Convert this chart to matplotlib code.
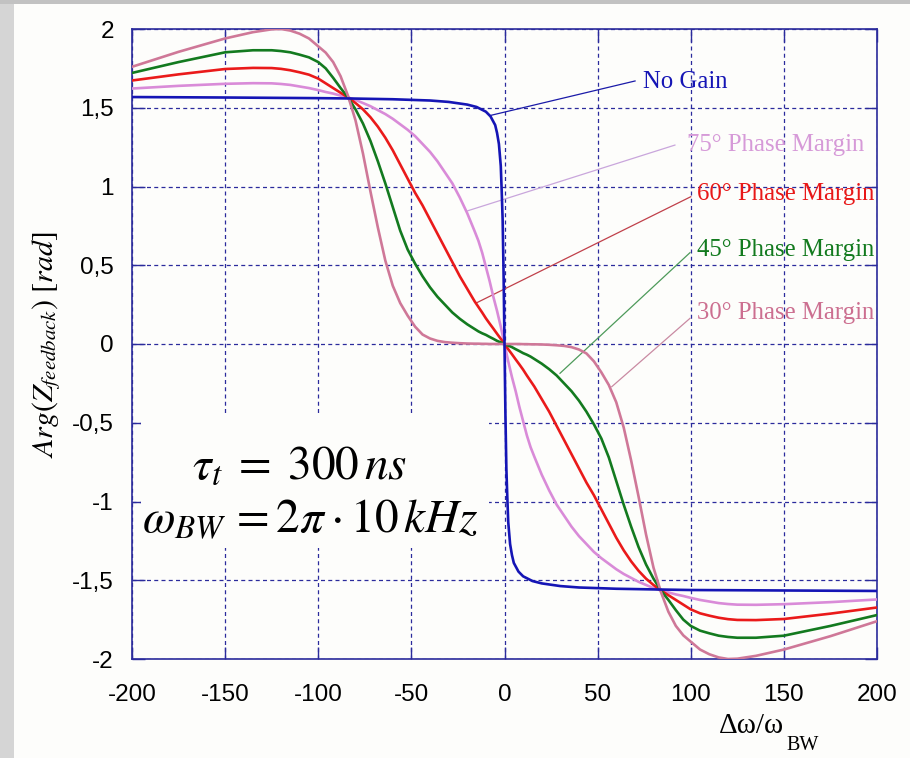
import matplotlib
matplotlib.use("Agg")
import matplotlib.pyplot as plt
from matplotlib.patches import Rectangle

plt.rcParams["mathtext.fontset"] = "stix"

# Detuning axis (Δω/ω_BW) shared by the four phase-margin curves
detuning = [-200, -175, -150, -135, -125, -120, -115, -110, -105, -100, -96, -92, -88,
            -84, -80, -76, -72, -68, -64, -60, -56, -52, -48, -44, -40, -36, -32, -28,
            -24, -20, -16, -14, -12, -10, -8, -6, -4, -2, 0, 2, 4, 6, 8, 10, 12, 14, 16,
            20, 24, 28, 32, 36, 40, 44, 48, 52, 56, 60, 64, 68, 72, 76, 80, 84, 88, 92,
            96, 100, 105, 110, 115, 120, 125, 135, 150, 175, 200]

pm75 = [1.622, 1.639, 1.652, 1.656, 1.655, 1.651, 1.645, 1.635, 1.625, 1.612, 1.60, 1.59,
        1.577, 1.565, 1.55, 1.53, 1.51, 1.485, 1.46, 1.43, 1.395, 1.36, 1.32, 1.27, 1.22,
        1.16, 1.09, 1.02, 0.93, 0.83, 0.715, 0.655, 0.58, 0.49, 0.40, 0.30, 0.21, 0.11,
        0.0,
        -0.11, -0.21, -0.30, -0.40, -0.49, -0.58, -0.655, -0.715, -0.83, -0.93, -1.02,
        -1.09, -1.16, -1.22, -1.27, -1.32, -1.36, -1.395, -1.43, -1.46, -1.485, -1.51,
        -1.53, -1.55, -1.565, -1.577, -1.59, -1.60, -1.612, -1.625, -1.635, -1.645,
        -1.651, -1.655, -1.656, -1.652, -1.639, -1.622]

pm60 = [1.673, 1.712, 1.746, 1.753, 1.752, 1.747, 1.738, 1.725, 1.71, 1.685, 1.655, 1.625,
        1.595, 1.565, 1.53, 1.49, 1.44, 1.38, 1.31, 1.23, 1.14, 1.05, 0.96, 0.88, 0.79,
        0.70, 0.61, 0.52, 0.43, 0.35, 0.27, 0.235, 0.20, 0.163, 0.13, 0.098, 0.065, 0.033,
        0.0,
        -0.033, -0.065, -0.098, -0.13, -0.163, -0.20, -0.235, -0.27, -0.35, -0.43, -0.52,
        -0.61, -0.70, -0.79, -0.88, -0.96, -1.05, -1.14, -1.23, -1.31, -1.38, -1.44,
        -1.49, -1.53, -1.565, -1.595, -1.625, -1.655, -1.685, -1.71, -1.725, -1.738,
        -1.747, -1.752, -1.753, -1.746, -1.712, -1.673]

pm45 = [1.721, 1.79, 1.852, 1.865, 1.865, 1.86, 1.852, 1.837, 1.82, 1.79, 1.75, 1.69,
        1.625, 1.565, 1.49, 1.40, 1.29, 1.16, 1.02, 0.87, 0.72, 0.60, 0.51, 0.43, 0.36,
        0.30, 0.25, 0.20, 0.16, 0.125, 0.095, 0.08, 0.068, 0.058, 0.045, 0.033, 0.02, 0.01,
        0.0,
        -0.01, -0.02, -0.033, -0.045, -0.058, -0.068, -0.08, -0.095, -0.125, -0.16, -0.20,
        -0.25, -0.30, -0.36, -0.43, -0.51, -0.60, -0.72, -0.87, -1.02, -1.16, -1.29,
        -1.40, -1.49, -1.565, -1.625, -1.69, -1.75, -1.79, -1.82, -1.837, -1.852, -1.86,
        -1.865, -1.865, -1.852, -1.79, -1.721]

pm30 = [1.76, 1.855, 1.94, 1.98, 1.998, 2.0, 1.99, 1.97, 1.94, 1.89, 1.85, 1.79, 1.70,
        1.575, 1.42, 1.21, 0.97, 0.74, 0.53, 0.37, 0.26, 0.18, 0.11, 0.06, 0.035, 0.02,
        0.012, 0.008, 0.005, 0.003, 0.002, 0.002, 0.001, 0.001, 0.0, 0.0, 0.0, 0.0,
        0.0,
        0.0, 0.0, 0.0, 0.0, -0.001, -0.001, -0.002, -0.002, -0.003, -0.005, -0.008,
        -0.012, -0.02, -0.035, -0.06, -0.11, -0.18, -0.26, -0.37, -0.53, -0.74, -0.97,
        -1.21, -1.42, -1.575, -1.70, -1.79, -1.85, -1.89, -1.94, -1.97, -1.99, -2.0,
        -1.998, -1.98, -1.94, -1.855, -1.76]

# Open-loop response (no gain) needs finer sampling around zero detuning
detuning_nogain = [-200, -150, -100, -84, -60, -40, -30, -20, -15, -10, -7.5, -5, -4, -3,
                   -2, -1.5, -1, -0.5, 0, 0.5, 1, 1.5, 2, 3, 4, 5, 7.5, 10, 15, 20, 30,
                   40, 60, 84, 100, 150, 200]
nogain = [1.568, 1.565, 1.561, 1.559, 1.554, 1.546, 1.537, 1.52, 1.505, 1.475, 1.445, 1.39,
          1.34, 1.27, 1.13, 0.97, 0.79, 0.45, 0.0, -0.45, -0.79, -0.97, -1.13, -1.27,
          -1.34, -1.39, -1.445, -1.475, -1.505, -1.52, -1.537, -1.546, -1.554, -1.559,
          -1.562, -1.565, -1.568]

xticks = [-200, -150, -100, -50, 0, 50, 100, 150, 200]
xtick_labels = ["-200", "-150", "-100", "-50", "0", "50", "100", "150", "200"]
yticks = [2, 1.5, 1, 0.5, 0, -0.5, -1, -1.5, -2]
ytick_labels = ["2", "1,5", "1", "0,5", "0", "-0,5", "-1", "-1,5", "-2"]

NAVY = "#2b2b9c"
C_NOGAIN = "#1515b5"
C75 = "#d98bd8"
C60 = "#ea1a1a"
C45 = "#137a1f"
C30 = "#cf7898"

W, H = 910, 758
fig = plt.figure(figsize=(W / 100, H / 100), dpi=100, facecolor="#fdfdfb")
fig.patches.append(Rectangle((0, 0), 14 / W, 1, transform=fig.transFigure,
                             facecolor="#d5d5d5", edgecolor="none", zorder=-5))
fig.patches.append(Rectangle((0, 1 - 4 / H), 1, 4 / H, transform=fig.transFigure,
                             facecolor="#c2c2c2", edgecolor="none", zorder=-5))

ax = fig.add_axes([132 / W, 1 - 659 / H, 745 / W, 630 / H])
ax.set_facecolor("#fdfdfb")
ax.set_xlim(-200, 200)
ax.set_ylim(-2, 2)

ax.grid(True, color=NAVY, linestyle=(0, (3.2, 2.6)), linewidth=0.9)
ax.set_axisbelow(True)
for s in ax.spines.values():
    s.set_color(NAVY)
    s.set_linewidth(1.2)

ax.set_xticks(xticks, labels=xtick_labels)
ax.set_yticks(yticks, labels=ytick_labels)
ax.tick_params(direction="in", length=9, width=1.0, color=NAVY, top=True, right=True,
               labelsize=17.5, labelcolor="black")
ax.tick_params(axis="x", pad=18)
ax.tick_params(axis="y", pad=13)
for lab in ax.get_xticklabels() + ax.get_yticklabels():
    lab.set_family("Liberation Sans")

# white panel behind the parameter text
ax.add_patch(Rectangle((-195, -1.295), 186.5, 0.845, facecolor="#fdfdfb",
                       edgecolor="none", zorder=1))

lw = 1.9
ax.plot(detuning, pm75, color=C75, lw=lw, zorder=3)
ax.plot(detuning, pm60, color=C60, lw=lw, zorder=3)
ax.plot(detuning, pm45, color=C45, lw=lw, zorder=3)
ax.plot(detuning, pm30, color=C30, lw=lw, zorder=3)
ax.plot(detuning_nogain, nogain, color=C_NOGAIN, lw=lw, zorder=4)

# curve labels with leader lines
serif = "Liberation Serif"
labels = [
    ("No Gain", C_NOGAIN, "#1a1aa8", (74.4, 1.623), (70.1, 1.670), (-7.25, 1.452)),
    ("75° Phase Margin", "#d69ad8", "#c9a6dc", (97.8, 1.227), (91.5, 1.263), (-19.7, 0.846)),
    ("60° Phase Margin", "#e81818", "#c0404a", (103.2, 0.914), (100.0, 0.935), (-14.9, 0.262)),
    ("45° Phase Margin", "#127a1e", "#4d9a5a", (103.2, 0.561), (99.6, 0.580), (29.8, -0.186)),
    ("30° Phase Margin", "#cc6f90", "#c98aa2", (103.2, 0.157), (99.6, 0.163), (57.6, -0.271)),
]
for text, tcol, lcol, tpos, p0, p1 in labels:
    ax.plot([p0[0], p1[0]], [p0[1], p1[1]], color=lcol, lw=0.9, zorder=2)
    ax.text(tpos[0], tpos[1], text, color=tcol, fontsize=17.8, family=serif,
            ha="left", va="baseline", zorder=5)

ax.text(-110.3, -0.853, r"$\tau_t\;=\;300\,ns$", fontsize=34, ha="center",
        va="baseline", zorder=5)
ax.text(-104.4, -1.202, r"$\omega_{BW}\, = 2\pi\cdot 10\,kHz$", fontsize=34,
        ha="center", va="baseline", zorder=5)

fig.text(47 / W, 1 - 345 / H, r"$Arg(Z_{feedback})\ [rad]$", fontsize=21.5,
         rotation=90, ha="center", va="center")

fig.text(719 / W, 1 - 732.7 / H, "Δω/ω", fontsize=21, family=serif,
         ha="left", va="baseline")
fig.text(786 / W, 1 - 750 / H, "BW", fontsize=14.5, family=serif,
         ha="left", va="baseline")

fig.savefig("out.png", dpi=100, facecolor=fig.get_facecolor())
